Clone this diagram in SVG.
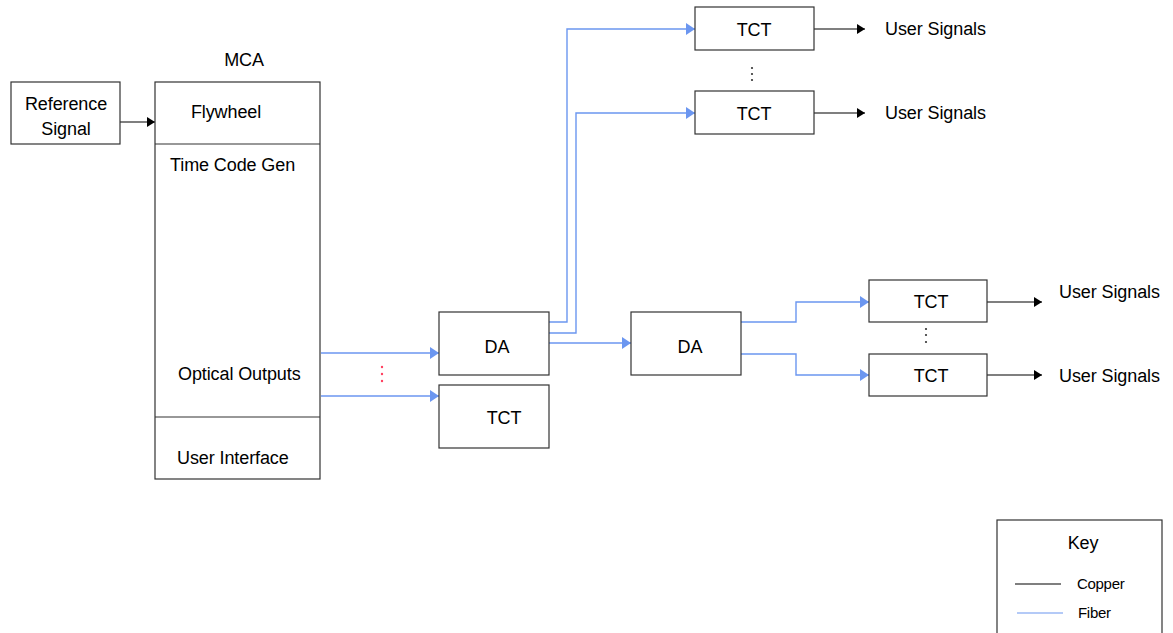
<svg xmlns="http://www.w3.org/2000/svg" width="1173" height="633" viewBox="0 0 1173 633">
<style>
.box{fill:#fff;stroke:#333;stroke-width:1.2}
.t{font-family:"Liberation Sans",Arial,sans-serif;font-size:18px;fill:#000;letter-spacing:-0.1px}
.k{font-family:"Liberation Sans",Arial,sans-serif;font-size:15px;fill:#000;letter-spacing:-0.3px}
.cu{fill:none;stroke:#000;stroke-width:1.2}
.fb{fill:none;stroke:#6b96f0;stroke-width:1.4}
</style>
<defs>
<marker id="ab" markerUnits="userSpaceOnUse" markerWidth="12" markerHeight="14" refX="9" refY="6" orient="auto"><path d="M0,0 L9,6 L0,12 Z" fill="#6b96f0"/></marker>
<marker id="ak" markerUnits="userSpaceOnUse" markerWidth="10" markerHeight="12" refX="8" refY="5" orient="auto"><path d="M0,0 L8,5 L0,10 Z" fill="#000"/></marker>
</defs>
<rect width="1173" height="633" fill="#fff"/>
<g id="connectors">
<path class="cu" d="M120,122 H155" marker-end="url(#ak)"/>
<path class="fb" d="M321,353 H439" marker-end="url(#ab)"/>
<path class="fb" d="M321,396 H439" marker-end="url(#ab)"/>
<path class="fb" d="M549,322 H567 V29 H695" marker-end="url(#ab)"/>
<path class="fb" d="M549,333 H576 V113 H695" marker-end="url(#ab)"/>
<path class="fb" d="M549,343 H631" marker-end="url(#ab)"/>
<path class="fb" d="M741,322 H796 V302 H869" marker-end="url(#ab)"/>
<path class="fb" d="M741,354 H796 V375 H869" marker-end="url(#ab)"/>
<path class="cu" d="M814,29 H865" marker-end="url(#ak)"/>
<path class="cu" d="M814,113 H865" marker-end="url(#ak)"/>
<path class="cu" d="M987,302 H1042" marker-end="url(#ak)"/>
<path class="cu" d="M987,375 H1042" marker-end="url(#ak)"/>
</g>
<g id="ref-signal">
<rect class="box" x="11" y="82" width="109" height="62"/>
<text class="t" x="66" y="110" text-anchor="middle">Reference</text>
<text class="t" x="66" y="135" text-anchor="middle">Signal</text>
</g>
<g id="mca">
<text class="t" x="244" y="66" text-anchor="middle">MCA</text>
<rect class="box" x="155" y="82" width="165" height="397"/>
<line class="box" x1="155" y1="144" x2="320" y2="144"/>
<line class="box" x1="155" y1="417" x2="320" y2="417"/>
<text class="t" x="226" y="118" text-anchor="middle">Flywheel</text>
<text class="t" x="170" y="171">Time Code Gen</text>
<text class="t" x="178" y="380">Optical Outputs</text>
<text class="t" x="177" y="464">User Interface</text>
</g>
<g id="red-dots" fill="#ff4060">
<circle cx="382" cy="367" r="1.2"/><circle cx="382" cy="374" r="1.2"/><circle cx="382" cy="381" r="1.2"/>
</g>
<g id="da1">
<rect class="box" x="439" y="312" width="110" height="63"/>
<text class="t" x="497" y="353" text-anchor="middle">DA</text>
</g>
<g id="tct0">
<rect class="box" x="439" y="385" width="110" height="63"/>
<text class="t" x="504" y="424" text-anchor="middle">TCT</text>
</g>
<g id="da2">
<rect class="box" x="631" y="312" width="110" height="63"/>
<text class="t" x="690" y="353" text-anchor="middle">DA</text>
</g>
<g id="tct1">
<rect class="box" x="695" y="7" width="119" height="43"/>
<text class="t" x="754" y="36" text-anchor="middle">TCT</text>
<text class="t" x="885" y="35">User Signals</text>
</g>
<g id="dots1" fill="#333">
<circle cx="752" cy="68" r="1.1"/><circle cx="752" cy="74" r="1.1"/><circle cx="752" cy="80" r="1.1"/>
</g>
<g id="tct2">
<rect class="box" x="695" y="91" width="119" height="43"/>
<text class="t" x="754" y="120" text-anchor="middle">TCT</text>
<text class="t" x="885" y="119">User Signals</text>
</g>
<g id="tct3">
<rect class="box" x="869" y="280" width="118" height="42"/>
<text class="t" x="931" y="308" text-anchor="middle">TCT</text>
<text class="t" x="1059" y="298">User Signals</text>
</g>
<g id="dots2" fill="#333">
<circle cx="926" cy="329" r="1.1"/><circle cx="926" cy="335" r="1.1"/><circle cx="926" cy="342" r="1.1"/>
</g>
<g id="tct4">
<rect class="box" x="869" y="354" width="118" height="42"/>
<text class="t" x="931" y="382" text-anchor="middle">TCT</text>
<text class="t" x="1059" y="382">User Signals</text>
</g>
<g id="key">
<rect class="box" x="997" y="520" width="165" height="125"/>
<text class="t" x="1083" y="549" text-anchor="middle">Key</text>
<line x1="1015" y1="584" x2="1061" y2="584" stroke="#000" stroke-width="1.2"/>
<text class="k" x="1077" y="589">Copper</text>
<line x1="1017" y1="613" x2="1063" y2="613" stroke="#6b96f0" stroke-width="1.2"/>
<text class="k" x="1078" y="618">Fiber</text>
</g>
</svg>
